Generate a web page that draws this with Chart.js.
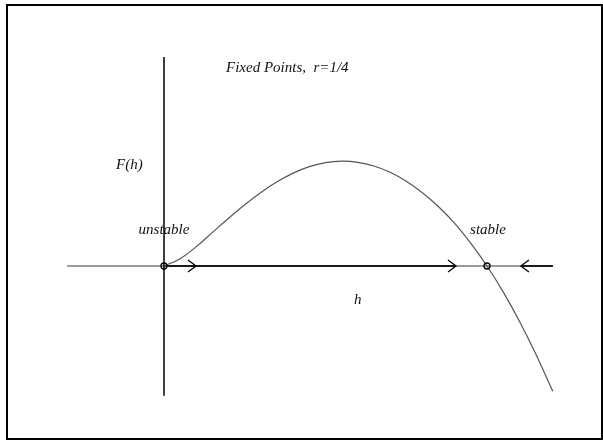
<!DOCTYPE html>
<html>
<head>
<meta charset="utf-8">
<script src="https://cdn.jsdelivr.net/npm/chart.js@4.4.0/dist/chart.umd.min.js"></script>
<style>
  html, body { margin: 0; padding: 0; background: #fff; }
  #wrap { width: 603px; height: 441px; position: relative; }
</style>
</head>
<body>
<div id="wrap"><canvas id="c" width="603" height="441"></canvas></div>
<script>
// ---- data (h, F(h)) ----
const hValues = [0, 0.05, 0.10, 0.15, 0.20, 0.25, 0.30, 0.35, 0.40, 0.45, 0.50, 0.55, 0.60, 0.65, 0.70, 0.75, 0.80, 0.85, 0.90, 0.95, 1.00, 1.05, 1.10, 1.15, 1.20, 1.204];
const fValues = [0, 0.0225, 0.060, 0.104, 0.148, 0.1895, 0.2275, 0.2605, 0.2875, 0.3075, 0.320, 0.3245, 0.321, 0.3095, 0.290, 0.2625, 0.227, 0.1835, 0.132, 0.070, 0, -0.080, -0.170, -0.270, -0.380, -0.388];
const fixedPoints = [0, 1.0];
const fixedLabels = ["unstable", "stable"];
const hAxisRange = [-0.30, 1.204];
const fAxisRange = [-0.402, 0.647];
const flowSegments = [[0, 0.904], [1.105, 1.204]];
const arrowsRight = [0.099, 0.904];
const arrowsLeft = [1.105];
const titleText = "Fixed Points,  r=1/4";
const yLabel = "F(h)";
const xLabel = "h";

const curveData = hValues.map((h, i) => ({ x: h, y: fValues[i] }));

const FONT = 'italic 15px "Liberation Serif", "Times New Roman", serif';

const drawPlugin = {
  id: 'phase',
  beforeDatasetsDraw(chart) {
    const ctx = chart.ctx;
    const xs = chart.scales.x, ys = chart.scales.y;
    const y0 = ys.getPixelForValue(0);
    ctx.save();
    // frame
    ctx.strokeStyle = '#000';
    ctx.lineWidth = 2;
    ctx.strokeRect(7, 5, 595, 434);
    // horizontal axis (thin gray)
    ctx.strokeStyle = '#7a7a7a';
    ctx.lineWidth = 1.5;
    ctx.beginPath();
    ctx.moveTo(xs.getPixelForValue(hAxisRange[0]), y0);
    ctx.lineTo(xs.getPixelForValue(hAxisRange[1]), y0);
    ctx.stroke();
    // flow segments (thick dark)
    ctx.strokeStyle = '#1a1a1a';
    ctx.lineWidth = 2.2;
    flowSegments.forEach(s => {
      ctx.beginPath();
      ctx.moveTo(xs.getPixelForValue(s[0]), y0);
      ctx.lineTo(xs.getPixelForValue(s[1]), y0);
      ctx.stroke();
    });
    // vertical axis
    const xv = xs.getPixelForValue(0);
    ctx.strokeStyle = '#000';
    ctx.lineWidth = 1.5;
    ctx.beginPath();
    ctx.moveTo(xv, ys.getPixelForValue(fAxisRange[1]));
    ctx.lineTo(xv, ys.getPixelForValue(fAxisRange[0]));
    ctx.stroke();
    // arrows
    ctx.lineWidth = 1.3;
    ctx.strokeStyle = '#000';
    arrowsRight.forEach(h => {
      const px = xs.getPixelForValue(h);
      ctx.beginPath();
      ctx.moveTo(px - 8, y0 - 6);
      ctx.lineTo(px, y0);
      ctx.lineTo(px - 8, y0 + 6);
      ctx.stroke();
    });
    arrowsLeft.forEach(h => {
      const px = xs.getPixelForValue(h);
      ctx.beginPath();
      ctx.moveTo(px + 8, y0 - 6);
      ctx.lineTo(px, y0);
      ctx.lineTo(px + 8, y0 + 6);
      ctx.stroke();
    });
    ctx.restore();
  },
  afterDatasetsDraw(chart) {
    const ctx = chart.ctx;
    const xs = chart.scales.x, ys = chart.scales.y;
    const y0 = ys.getPixelForValue(0);
    ctx.save();
    // fixed point circles
    ctx.strokeStyle = '#000';
    ctx.lineWidth = 1.3;
    fixedPoints.forEach(h => {
      ctx.beginPath();
      ctx.arc(xs.getPixelForValue(h), y0, 3, 0, Math.PI * 2);
      ctx.stroke();
    });
    // texts
    ctx.fillStyle = '#111';
    ctx.font = FONT;
    ctx.textBaseline = 'middle';
    ctx.textAlign = 'left';
    ctx.fillText(titleText, 226, 68);
    ctx.fillText(yLabel, 116, 165);
    ctx.fillText(xLabel, 354, 300);
    ctx.textAlign = 'center';
    ctx.fillText(fixedLabels[0], xs.getPixelForValue(fixedPoints[0]), 230);
    ctx.fillText(fixedLabels[1], xs.getPixelForValue(fixedPoints[1]) + 1, 230);
    ctx.restore();
  }
};

const xMin = -164 / 323, xMax = (603 - 164) / 323;
const yMax = 266 / 323, yMin = -(441 - 266) / 323;

new Chart(document.getElementById('c'), {
  type: 'scatter',
  data: {
    datasets: [{
      data: curveData,
      showLine: true,
      borderColor: '#555',
      borderWidth: 1.2,
      pointRadius: 0,
      tension: 0.4,
      fill: false
    }]
  },
  options: {
    responsive: false,
    animation: false,
    events: [],
    layout: { padding: 0 },
    plugins: { legend: { display: false }, tooltip: { enabled: false }, title: { display: false } },
    scales: {
      x: { type: 'linear', min: xMin, max: xMax, display: false },
      y: { type: 'linear', min: yMin, max: yMax, display: false }
    }
  },
  plugins: [drawPlugin]
});
</script>
</body>
</html>
